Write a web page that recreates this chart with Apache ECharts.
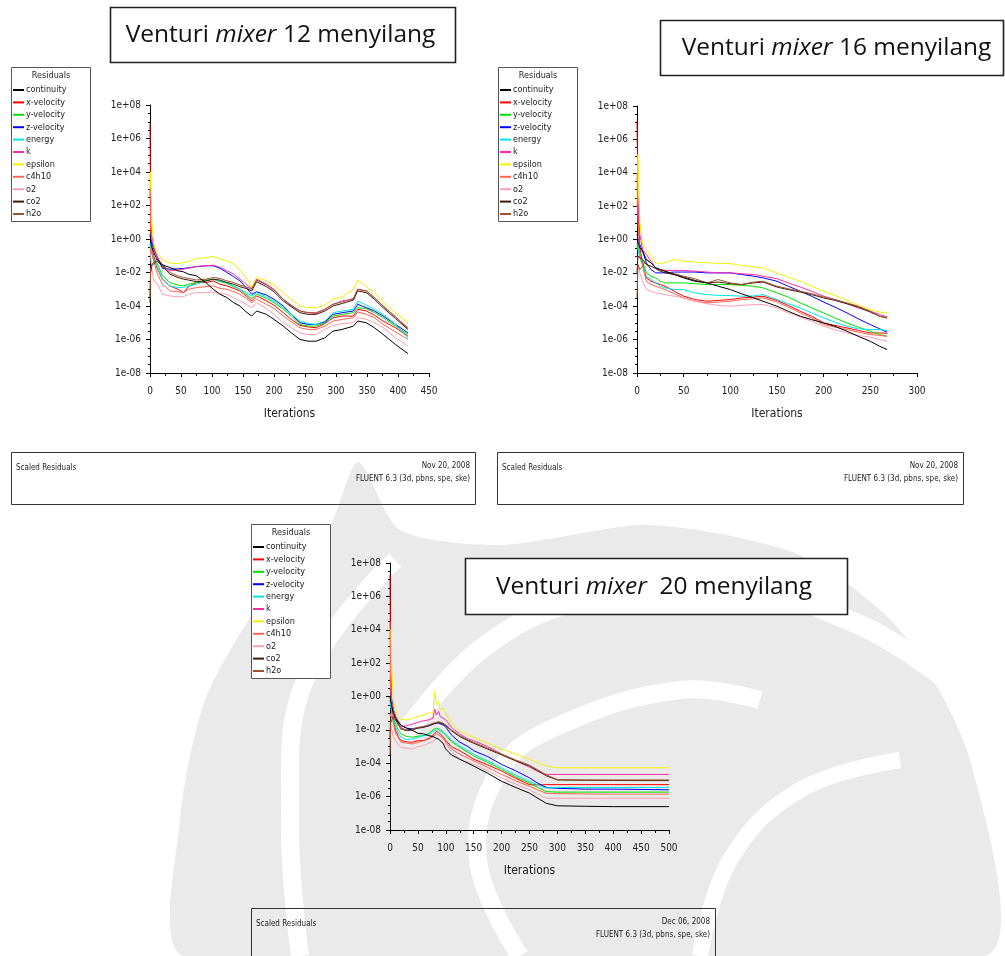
<!DOCTYPE html>
<html><head><meta charset="utf-8">
<script src="https://cdn.jsdelivr.net/npm/echarts@6/dist/echarts.min.js"></script>
<style>html,body{margin:0;padding:0;background:#fff}#c{width:1005px;height:956px}</style>
</head><body><div id="c"></div>
<script>
// ---- series names (legend) ----
const NAMES = ['continuity','x-velocity','y-velocity','z-velocity','energy','k','epsilon','c4h10','o2','co2','h2o'];

// ===== Chart 1: Venturi mixer 12 menyilang (values are log10 of residual) =====
const c1Iter = [0,1,3,6,11,20,32,45,54,62,75,90,102,113,124,135,145,155,164,172,188,200,215,228,242,255,268,282,295,310,328,335,349,362,376,396,416];
const c1Continuity = [0.2,0,-0.5,-0.8,-1.2,-1.55,-1.7,-1.9,-1.96,-2.1,-2.2,-2.6,-3.0,-3.3,-3.5,-3.8,-4.0,-4.35,-4.6,-4.3,-4.5,-4.8,-5.2,-5.6,-6.0,-6.1,-6.1,-5.9,-5.5,-5.4,-5.2,-4.9,-5.0,-5.3,-5.7,-6.3,-6.84];
const c1XVel = [6.9,1.0,-0.5,-1.0,-1.7,-2.4,-2.8,-3.0,-3.2,-2.84,-2.6,-2.6,-2.5,-2.7,-2.8,-2.95,-3.1,-3.4,-3.7,-3.4,-3.7,-3.95,-4.4,-4.8,-5.16,-5.25,-5.3,-5.05,-4.7,-4.6,-4.6,-4.2,-4.3,-4.55,-4.9,-5.3,-5.8];
const c1YVel = [-0.3,-0.4,-0.9,-1.3,-1.4,-2.2,-2.6,-2.75,-2.8,-2.7,-2.6,-2.45,-2.4,-2.55,-2.65,-2.85,-3.0,-3.3,-3.56,-3.3,-3.55,-3.8,-4.2,-4.6,-5.1,-5.2,-5.2,-5.0,-4.6,-4.5,-4.4,-4.1,-4.16,-4.4,-4.7,-5.2,-5.7];
const c1ZVel = [0.3,0.3,-0.2,-0.6,-1.0,-1.75,-1.8,-1.78,-1.76,-1.72,-1.65,-1.6,-1.6,-1.75,-2.0,-2.25,-2.5,-2.9,-3.3,-3.15,-3.35,-3.6,-4.0,-4.5,-5.0,-5.1,-5.1,-4.95,-4.5,-4.4,-4.3,-3.9,-4.1,-4.3,-4.6,-5.1,-5.6];
const c1Energy = [-0.2,-0.3,-0.8,-1.2,-1.6,-2.4,-2.8,-2.9,-2.9,-2.8,-2.7,-2.5,-2.4,-2.5,-2.6,-2.8,-3.0,-3.2,-3.4,-3.2,-3.45,-3.7,-4.1,-4.5,-4.9,-5.05,-5.1,-4.9,-4.4,-4.3,-4.2,-3.7,-3.95,-4.2,-4.5,-5.1,-5.9];
const c1K = [1.0,1.0,0.2,-0.5,-1.0,-1.6,-1.9,-1.85,-1.8,-1.75,-1.64,-1.6,-1.56,-1.7,-1.9,-2.1,-2.4,-2.7,-2.96,-2.4,-2.7,-3.0,-3.6,-4.0,-4.3,-4.4,-4.44,-4.2,-3.9,-3.7,-3.6,-3.0,-3.1,-3.5,-4.0,-4.65,-5.3];
const c1Epsilon = [2.5,4.0,1.0,-0.3,-0.8,-1.25,-1.44,-1.46,-1.42,-1.36,-1.16,-1.12,-1.04,-1.2,-1.3,-1.5,-1.85,-2.3,-2.9,-2.3,-2.5,-2.75,-3.2,-3.6,-4.0,-4.1,-4.1,-3.95,-3.6,-3.45,-3.0,-2.45,-2.85,-3.2,-3.8,-4.4,-5.0];
const c1C4h10 = [3.0,1.0,-0.6,-1.3,-2.0,-2.7,-3.1,-3.15,-3.2,-3.0,-2.9,-2.85,-2.8,-2.95,-3.0,-3.15,-3.3,-3.55,-3.8,-3.6,-3.9,-4.15,-4.6,-4.95,-5.3,-5.4,-5.4,-5.2,-4.9,-4.8,-4.7,-4.36,-4.5,-4.7,-5.1,-5.55,-6.0];
const c1O2 = [-0.5,-1.0,-1.8,-2.5,-2.6,-3.3,-3.4,-3.45,-3.44,-3.3,-3.2,-3.2,-3.16,-3.25,-3.3,-3.5,-3.7,-3.9,-4.1,-3.8,-4.16,-4.5,-5.0,-5.3,-5.6,-5.7,-5.7,-5.4,-5.16,-5.05,-5.0,-4.7,-4.8,-5.0,-5.3,-5.9,-6.4];
const c1Co2 = [-3.8,-2.0,-1.6,-1.6,-1.3,-1.6,-2.1,-2.3,-2.4,-2.45,-2.55,-2.5,-2.4,-2.45,-2.6,-2.7,-2.85,-2.95,-3.1,-2.55,-2.85,-3.15,-3.7,-4.05,-4.4,-4.5,-4.5,-4.3,-4.0,-3.85,-3.65,-3.1,-3.2,-3.6,-4.1,-4.75,-5.4];
const c1H2o = [-3.5,-1.8,-1.5,-1.5,-1.2,-1.5,-2.0,-2.2,-2.3,-2.35,-2.45,-2.4,-2.3,-2.35,-2.5,-2.6,-2.75,-2.85,-3.0,-2.45,-2.75,-3.05,-3.6,-3.95,-4.3,-4.4,-4.4,-4.2,-3.9,-3.75,-3.55,-3.0,-3.1,-3.5,-4.0,-4.65,-5.35];

// ===== Chart 2: Venturi mixer 16 menyilang =====
const c2Iter = [0,1,3,6,10,15,20,25,30,40,50,62,75,87,100,112,125,135,150,162,175,187,200,212,225,237,250,260,268];
const c2Continuity = [0.0,-0.1,-0.5,-0.7,-1.2,-1.4,-1.7,-1.8,-1.9,-2.1,-2.3,-2.5,-2.6,-2.8,-3.0,-3.25,-3.5,-3.7,-4.0,-4.3,-4.6,-4.8,-5.0,-5.2,-5.5,-5.8,-6.1,-6.4,-6.6];
const c2XVel = [7.1,2.0,-0.5,-1.4,-2.3,-2.5,-2.6,-2.7,-2.8,-3.1,-3.4,-3.6,-3.7,-3.65,-3.6,-3.5,-3.45,-3.4,-3.65,-3.95,-4.3,-4.6,-5.0,-5.15,-5.3,-5.45,-5.6,-5.6,-5.62];
const c2YVel = [-0.2,-0.3,-0.8,-1.3,-2.0,-2.2,-2.3,-2.5,-2.6,-2.6,-2.6,-2.65,-2.7,-2.7,-2.7,-2.75,-2.8,-2.9,-3.2,-3.45,-3.8,-4.1,-4.4,-4.7,-5.0,-5.25,-5.5,-5.7,-5.8];
const c2ZVel = [0.3,0.2,-0.3,-0.7,-1.4,-1.8,-2.0,-2.0,-2.0,-1.95,-1.95,-1.95,-2.0,-2.0,-2.0,-2.1,-2.2,-2.3,-2.5,-2.8,-3.1,-3.4,-3.75,-4.05,-4.4,-4.75,-5.1,-5.35,-5.56];
const c2Energy = [-0.4,-0.6,-1.1,-1.5,-2.2,-2.4,-2.6,-2.8,-2.9,-3.0,-3.0,-3.2,-3.3,-3.35,-3.36,-3.4,-3.38,-3.3,-3.6,-3.85,-4.1,-4.4,-4.7,-4.95,-5.2,-5.35,-5.4,-5.4,-5.45];
const c2K = [2.0,2.5,0.3,-0.6,-0.9,-1.3,-1.7,-1.8,-1.85,-1.85,-1.85,-1.9,-1.95,-2.0,-2.0,-2.05,-2.1,-2.2,-2.35,-2.6,-2.85,-3.1,-3.4,-3.6,-3.85,-4.1,-4.3,-4.5,-4.64];
const c2Epsilon = [2.0,5.1,1.0,-0.3,-0.6,-1.0,-1.4,-1.45,-1.4,-1.2,-1.3,-1.35,-1.4,-1.42,-1.45,-1.55,-1.65,-1.7,-2.0,-2.25,-2.5,-2.8,-3.1,-3.35,-3.65,-3.95,-4.2,-4.35,-4.4];
const c2C4h10 = [4.0,1.0,-0.9,-1.6,-2.5,-2.7,-2.8,-2.9,-3.0,-3.25,-3.5,-3.7,-3.8,-3.75,-3.7,-3.6,-3.55,-3.5,-3.75,-4.05,-4.4,-4.7,-5.1,-5.25,-5.4,-5.55,-5.7,-5.75,-5.8];
const c2O2 = [-1.0,-1.5,-2.0,-2.5,-3.0,-3.1,-3.2,-3.25,-3.3,-3.4,-3.5,-3.7,-3.85,-3.95,-4.0,-3.95,-3.9,-3.9,-4.1,-4.4,-4.65,-4.9,-5.2,-5.4,-5.6,-5.75,-5.85,-6.0,-6.1];
const c2Co2 = [-2.0,-1.0,-1.0,-1.2,-1.5,-1.6,-1.75,-1.9,-2.0,-2.1,-2.25,-2.45,-2.6,-2.55,-2.65,-2.7,-2.6,-2.55,-2.85,-3.0,-3.15,-3.3,-3.5,-3.65,-3.85,-4.05,-4.35,-4.6,-4.7];
const c2H2o = [-3.5,-1.5,-1.8,-1.6,-1.2,-1.4,-1.7,-1.85,-1.9,-2.05,-2.2,-2.35,-2.6,-2.4,-2.6,-2.7,-2.55,-2.5,-2.8,-2.95,-3.1,-3.25,-3.45,-3.6,-3.8,-4.0,-4.3,-4.6,-4.7];

// ===== Chart 3: Venturi mixer 20 menyilang =====
const c3Iter = [0,1,3,6,10,15,20,30,40,50,60,70,77,80,83,87,90,95,100,110,125,140,150,175,200,225,250,265,280,300,350,400,450,500];
const c3Continuity = [0.0,-0.2,-0.6,-1.0,-1.32,-1.55,-1.73,-1.9,-2.03,-2.2,-2.24,-2.35,-2.4,-2.44,-2.5,-2.55,-2.64,-2.8,-3.15,-3.5,-3.76,-4.0,-4.17,-4.6,-5.08,-5.45,-5.79,-6.1,-6.4,-6.55,-6.58,-6.6,-6.6,-6.6];
const c3XVel = [7.3,2.0,-0.5,-1.4,-2.03,-2.4,-2.64,-2.72,-2.74,-2.65,-2.64,-2.5,-2.3,-2.2,-2.1,-2.15,-2.24,-2.4,-2.64,-3.0,-3.25,-3.55,-3.76,-4.1,-4.47,-4.9,-5.28,-5.3,-5.28,-5.28,-5.28,-5.28,-5.28,-5.28];
const c3YVel = [-0.2,-0.4,-0.8,-1.3,-1.63,-2.0,-2.24,-2.4,-2.44,-2.38,-2.34,-2.2,-2.0,-1.95,-1.9,-1.93,-2.0,-2.1,-2.34,-2.7,-3.05,-3.35,-3.56,-3.95,-4.37,-4.8,-5.18,-5.45,-5.7,-5.73,-5.73,-5.73,-5.73,-5.73];
const c3ZVel = [0.5,0.3,-0.2,-0.8,-1.2,-1.5,-1.73,-1.9,-1.93,-1.88,-1.83,-1.75,-1.65,-1.62,-1.6,-1.6,-1.65,-1.7,-1.83,-2.3,-2.74,-3.0,-3.25,-3.6,-4.07,-4.45,-4.88,-5.2,-5.45,-5.5,-5.55,-5.55,-5.57,-5.59];
const c3Energy = [-0.3,-0.5,-1.0,-1.5,-1.83,-2.2,-2.44,-2.6,-2.54,-2.45,-2.35,-2.3,-2.1,-2.05,-2.0,-2.0,-2.1,-2.2,-2.24,-2.6,-2.96,-3.25,-3.46,-3.85,-4.27,-4.7,-5.08,-5.3,-5.49,-5.45,-5.45,-5.45,-5.45,-5.45];
const c3K = [1.2,0.5,-0.3,-0.8,-1.2,-1.6,-1.83,-1.75,-1.65,-1.55,-1.45,-1.4,-1.3,-0.75,-1.1,-0.9,-1.2,-1.3,-1.4,-1.85,-2.25,-2.55,-2.65,-3.0,-3.45,-3.85,-4.23,-4.5,-4.67,-4.67,-4.67,-4.67,-4.67,-4.67];
const c3Epsilon = [1.0,4.0,1.8,-0.2,-0.8,-1.2,-1.38,-1.4,-1.32,-1.2,-1.12,-0.98,-1.0,0.3,-0.5,-0.3,-0.8,-0.7,-1.0,-1.6,-2.07,-2.3,-2.45,-2.8,-3.15,-3.45,-3.76,-3.98,-4.17,-4.27,-4.27,-4.27,-4.27,-4.27];
const c3C4h10 = [4.5,1.0,-0.8,-1.6,-2.24,-2.5,-2.74,-2.8,-2.84,-2.75,-2.65,-2.55,-2.4,-2.3,-2.25,-2.3,-2.35,-2.5,-2.74,-3.15,-3.46,-3.7,-3.86,-4.25,-4.67,-5.05,-5.38,-5.6,-5.8,-5.82,-5.84,-5.85,-5.85,-5.85];
const c3O2 = [-1.0,-1.3,-2.0,-2.4,-2.64,-2.9,-3.05,-3.1,-3.15,-3.0,-2.95,-2.8,-2.7,-2.6,-2.55,-2.6,-2.65,-2.8,-2.85,-3.3,-3.76,-3.95,-4.07,-4.45,-4.88,-5.25,-5.59,-5.85,-6.1,-6.1,-6.1,-6.1,-6.1,-6.1];
const c3Co2 = [-2.5,-1.2,-1.2,-1.3,-1.4,-1.7,-1.95,-2.05,-2.0,-1.9,-1.85,-1.75,-1.65,-1.65,-1.6,-1.55,-1.6,-1.65,-1.75,-2.05,-2.4,-2.65,-2.8,-3.15,-3.5,-3.85,-4.17,-4.45,-4.75,-5.0,-5.02,-5.03,-5.04,-5.04];
const c3H2o = [-3.5,-1.6,-1.4,-1.2,-1.3,-1.6,-1.9,-2.0,-1.95,-1.85,-1.8,-1.7,-1.6,-1.6,-1.55,-1.5,-1.55,-1.6,-1.7,-2.0,-2.35,-2.6,-2.75,-3.1,-3.45,-3.8,-4.12,-4.4,-4.7,-4.98,-5.0,-5.0,-5.0,-5.0];

// ---- styling (not data) ----
const COLORS = ['#000000','#ff0000','#00e000','#0000ff','#00e6e6','#ff2aa8','#f2f200','#ff6450','#ff9fb2','#3c1a0a','#a0522d'];
const NARROW = "'Liberation Sans Narrow','DejaVu Sans Condensed','Arial Narrow',sans-serif";
const TITLE_FONT = "'Open Sans','Noto Sans',sans-serif";

const charts = [
  {iter:c1Iter, vals:[c1Continuity,c1XVel,c1YVel,c1ZVel,c1Energy,c1K,c1Epsilon,c1C4h10,c1O2,c1Co2,c1H2o], xmax:450,
   grid:{left:150, top:105, width:279, height:268}},
  {iter:c2Iter, vals:[c2Continuity,c2XVel,c2YVel,c2ZVel,c2Energy,c2K,c2Epsilon,c2C4h10,c2O2,c2Co2,c2H2o], xmax:300,
   grid:{left:637, top:106, width:280, height:267}},
  {iter:c3Iter, vals:[c3Continuity,c3XVel,c3YVel,c3ZVel,c3Energy,c3K,c3Epsilon,c3C4h10,c3O2,c3Co2,c3H2o], xmax:500,
   grid:{left:390, top:563, width:279, height:267}}
];

function expLabel(v){
  const a = Math.abs(v);
  return '1e' + (v < 0 ? '-' : '+') + (a < 10 ? '0' + a : '' + a);
}

const grids = [], xAxes = [], yAxes = [], series = [];
charts.forEach((c, i) => {
  grids.push(Object.assign({containLabel:false}, c.grid));
  xAxes.push({
    type:'value', gridIndex:i, min:0, max:c.xmax, interval:50,
    name:'Iterations', nameLocation:'middle', nameGap:35,
    nameTextStyle:{fontFamily:NARROW, fontSize:12, color:'#222'},
    axisLine:{show:true, onZero:false, lineStyle:{color:'#000', width:1}},
    axisTick:{show:true, length:4, lineStyle:{color:'#000'}},
    minorTick:{show:true, splitNumber:2, length:3, lineStyle:{color:'#000'}},
    axisLabel:{fontFamily:NARROW, fontSize:10, color:'#222', margin:13},
    splitLine:{show:false}
  });
  yAxes.push({
    type:'value', gridIndex:i, min:-8, max:8, interval:2,
    axisLine:{show:true, onZero:false, lineStyle:{color:'#000', width:1}},
    axisTick:{show:true, length:4, lineStyle:{color:'#000'}},
    minorTick:{show:true, splitNumber:4, length:2, lineStyle:{color:'#000'}},
    axisLabel:{fontFamily:NARROW, fontSize:10, color:'#222', margin:9, formatter:expLabel},
    splitLine:{show:false}
  });
  NAMES.forEach((n, j) => {
    series.push({
      type:'line', name:n, xAxisIndex:i, yAxisIndex:i,
      data:c.iter.map((x, k) => [x, c.vals[j][k]]),
      showSymbol:false, symbol:'none', silent:true, animation:false,
      color:COLORS[j], lineStyle:{width:1, color:COLORS[j]}, z:2 + (j === 0 ? 1 : 0)
    });
  });
});

function legendAt(left, top){
  return {
    show:true, orient:'vertical', left:left, top:top, padding:0, z:20,
    data:NAMES, icon:'rect', itemWidth:11, itemHeight:2, itemGap:2.4,
    selectedMode:false,
    textStyle:{fontFamily:NARROW, fontSize:9, color:'#222', lineHeight:10, padding:[0,0,0,-3]}
  };
}

function legendBox(x, y){
  return [
    {type:'rect', shape:{x:x+0.5, y:y+0.5, width:79, height:154}, style:{fill:'#fff', stroke:'#555', lineWidth:1}, z:5},
    {type:'text', x:x+40, y:y+9, style:{text:'Residuals', fontFamily:NARROW, fontSize:9, fill:'#222', align:'center', verticalAlign:'middle'}, z:6}
  ];
}

function titleBox(x, y, w, h, text, dx){
  return [
    {type:'rect', shape:{x:x+0.5, y:y+0.5, width:w, height:h}, style:{fill:'#fff', stroke:'#222', lineWidth:1.6}, z:5},
    {type:'text', x:x + w/2 + (dx || 0), y:y + h/2 + 1, z:6,
     style:{text:text, fontFamily:TITLE_FONT, fontSize:24.5, fill:'#111',
       align:'center', verticalAlign:'middle',
       rich:{i:{fontStyle:'italic', fontFamily:TITLE_FONT, fontSize:24.5, fill:'#111'}}}}
  ];
}

function footer(x, y, w, h, date){
  return [
    {type:'rect', shape:{x:x+0.5, y:y+0.5, width:w, height:h}, style:{fill:'rgba(255,255,255,0)', stroke:'#333', lineWidth:1}, z:5},
    {type:'text', x:x+5, y:y+16, style:{text:'Scaled Residuals', fontFamily:NARROW, fontSize:8, fill:'#222', verticalAlign:'middle'}, z:6},
    {type:'text', x:x+w-5, y:y+14, style:{text:date, fontFamily:NARROW, fontSize:8, fill:'#222', align:'right', verticalAlign:'middle'}, z:6},
    {type:'text', x:x+w-5, y:y+27, style:{text:'FLUENT 6.3 (3d, pbns, spe, ske)', fontFamily:NARROW, fontSize:8, fill:'#222', align:'right', verticalAlign:'middle'}, z:6}
  ];
}

const WM = '#eaeaea';
function stroke(pts, w){
  return {type:'polyline', z:-9, shape:{points:pts, smooth:0.4}, style:{fill:null, stroke:'#fff', lineWidth:w}};
}
const watermark = [
  {type:'polygon', z:-10, shape:{smooth:0.25, points:[[185,956],[180,820],[205,700],[262,600],[330,525],[358,462],[400,530],[500,545],[650,525],[800,555],[900,630],[970,760],[985,956]]}, style:{fill:WM}},
  stroke([[300,956],[290,820],[305,680],[395,560]], 18),
  stroke([[400,740],[480,650],[580,600],[720,585],[860,625],[960,690]], 20),
  stroke([[520,956],[478,860],[500,770],[560,725],[680,690],[760,700]], 18),
  stroke([[700,956],[730,860],[800,790],[900,760]], 16)
];

const graphics = [].concat(
  watermark,
  titleBox(110, 7, 345, 55, 'Venturi {i|mixer} 12 menyilang', -2),
  titleBox(660, 20, 343, 55, 'Venturi {i|mixer} 16 menyilang', 5),
  titleBox(465, 558, 382, 56, 'Venturi {i|mixer}  20 menyilang', -2),
  legendBox(11, 67), legendBox(498, 67), legendBox(251, 524),
  footer(11, 452, 464, 52, 'Nov 20, 2008'),
  footer(497, 452, 466, 52, 'Nov 20, 2008'),
  footer(251, 908, 464, 60, 'Dec 06, 2008')
);

const chart = echarts.init(document.getElementById('c'), null, {renderer:'canvas'});
chart.setOption({
  animation:false,
  backgroundColor:'#ffffff',
  grid:grids, xAxis:xAxes, yAxis:yAxes, series:series,
  legend:[legendAt(13, 85), legendAt(500, 85), legendAt(253, 542)],
  graphic:{elements:graphics}
});
</script>
</body></html>
